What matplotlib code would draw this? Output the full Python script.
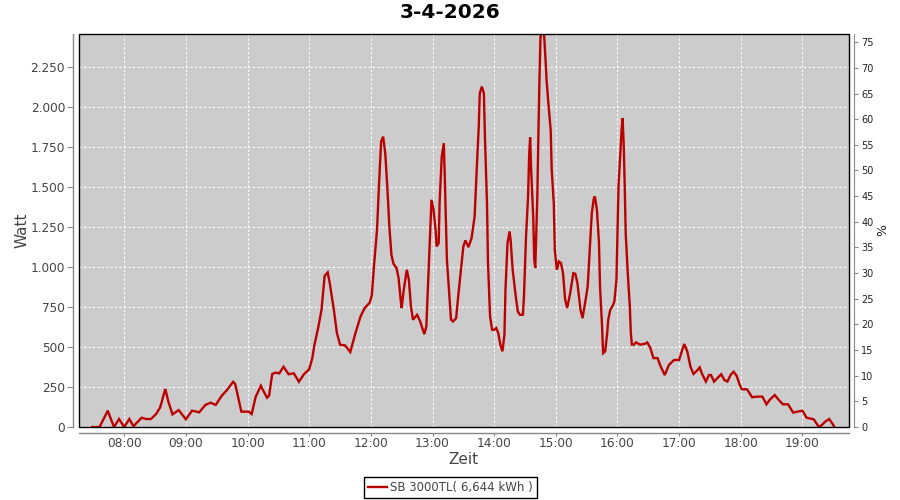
import matplotlib
matplotlib.use('Agg')
import matplotlib.pyplot as plt
from matplotlib.patches import Rectangle
from matplotlib.lines import Line2D

title = "3-4-2026"
series_label = "SB 3000TL( 6,644 kWh )"
x_label = "Zeit"
y_label = "Watt"
y2_label = "%"

times = [
    "07:29", "07:36", "07:44", "07:50", "07:55",
    "08:00", "08:05", "08:09", "08:17", "08:21", "08:26", "08:31", "08:35", "08:40", "08:43", "08:47", "08:53",
    "09:00", "09:06", "09:13", "09:19", "09:24", "09:29", "09:35", "09:40", "09:46", "09:48", "09:54",
    "10:01", "10:04", "10:08", "10:13", "10:15", "10:19", "10:21", "10:24", "10:27", "10:31", "10:35", "10:40",
    "10:45", "10:50", "10:55",
    "11:00", "11:03", "11:05", "11:09", "11:12", "11:14", "11:15", "11:18", "11:20", "11:24", "11:27", "11:30",
    "11:35", "11:40", "11:45", "11:50", "11:54", "11:59",
    "12:01", "12:03", "12:06", "12:08", "12:10", "12:12", "12:14", "12:16", "12:18", "12:20", "12:22", "12:25",
    "12:27", "12:29", "12:30", "12:32", "12:35", "12:37", "12:39", "12:41", "12:45", "12:48", "12:52", "12:54",
    "12:56", "12:58", "12:59",
    "13:01", "13:03", "13:04", "13:06", "13:07", "13:09", "13:11", "13:12", "13:14", "13:16", "13:18", "13:20",
    "13:23", "13:25", "13:28", "13:30", "13:32", "13:35", "13:38", "13:41", "13:43", "13:45", "13:46", "13:48",
    "13:50", "13:51", "13:53", "13:54", "13:56", "13:58",
    "14:00", "14:02", "14:04", "14:06", "14:08", "14:10", "14:11", "14:13", "14:15", "14:16", "14:18", "14:21",
    "14:23", "14:25", "14:28", "14:29", "14:31", "14:33", "14:34", "14:35", "14:36", "14:38", "14:39", "14:40",
    "14:42", "14:43", "14:44", "14:45", "14:46", "14:48", "14:50", "14:51", "14:53", "14:55", "14:56", "14:58",
    "14:59",
    "15:01", "15:03", "15:05", "15:07", "15:09", "15:11", "15:14", "15:17", "15:19", "15:21", "15:24", "15:26",
    "15:29", "15:31", "15:33", "15:35", "15:37", "15:38", "15:40", "15:42", "15:43", "15:45", "15:46", "15:48",
    "15:50", "15:51", "15:53", "15:55", "15:57", "15:59",
    "16:00", "16:01", "16:03", "16:04", "16:05", "16:06", "16:07", "16:08", "16:10", "16:12", "16:13", "16:14",
    "16:16", "16:18", "16:22", "16:27", "16:29", "16:32", "16:35", "16:39", "16:42", "16:46", "16:50", "16:55",
    "17:00", "17:03", "17:05", "17:08", "17:11", "17:14", "17:18", "17:20", "17:22", "17:26", "17:29", "17:31",
    "17:34", "17:38", "17:41", "17:44", "17:47", "17:50", "17:53", "17:56", "17:59",
    "18:01", "18:06", "18:11", "18:16", "18:21", "18:25", "18:28", "18:33", "18:37", "18:41", "18:46", "18:51",
    "18:55",
    "19:00", "19:04", "19:08", "19:11", "19:16", "19:19", "19:22", "19:26", "19:30", "19:31",
]

watts = [
    0, 0, 102, 0, 50,
    0, 50, 5, 58, 50, 50, 81, 123, 238, 158, 79, 106,
    48, 102, 92, 138, 152, 138, 196, 231, 283, 269, 96,
    96, 81, 190, 258, 231, 183, 196, 331, 340, 336, 377, 330,
    336, 283, 331,
    361, 430, 510, 629, 733, 878, 945, 967, 900, 733, 587, 515,
    510, 469, 587, 692, 744, 779,
    827, 1004, 1233, 1525, 1785, 1816, 1712, 1504, 1254, 1077, 1021, 994,
    931, 796, 744, 858, 983, 921, 754, 671, 702, 660, 581, 629,
    942, 1254, 1421,
    1358, 1233, 1129, 1150, 1421, 1692, 1775, 1550, 1046, 858, 671, 660,
    681, 817, 1004, 1129, 1167, 1125, 1181, 1317, 1608, 1879, 2087, 2129,
    2087, 1817, 1400, 1025, 692, 608,
    608, 619, 587, 515, 473, 577, 858, 1150, 1223, 1171, 983, 817,
    723, 702, 702, 817, 1192, 1442, 1692, 1812, 1608, 1317, 1046, 994,
    1442, 1817, 2150, 2421, 2520, 2520, 2296, 2171, 2004, 1858, 1608, 1400,
    1108,
    983, 1035, 1025, 962, 800, 744, 837, 962, 958, 900, 733, 681,
    796, 879, 1108, 1337, 1431, 1442, 1358, 1150, 879, 629, 462, 473,
    587, 671, 733, 754, 785, 921,
    1212, 1504, 1733, 1858, 1931, 1775, 1525, 1212, 962, 754, 587, 515,
    515, 529, 515, 521, 529, 494, 431, 431, 379, 325, 388, 419,
    419, 482, 519, 471, 377, 332, 357, 373, 336, 284, 325, 325,
    284, 311, 330, 294, 284, 325, 346, 319, 263,
    236, 236, 186, 190, 190, 142, 169, 200, 169, 142, 142, 90,
    96,
    102, 58, 52, 48, 0, 13, 33, 50, 13, 0,
]

x_tick_labels = ["08:00", "09:00", "10:00", "11:00", "12:00", "13:00",
                 "14:00", "15:00", "16:00", "17:00", "18:00", "19:00"]
watt_ticks = [0, 250, 500, 750, 1000, 1250, 1500, 1750, 2000, 2250]
watt_tick_labels = ["0", "250", "500", "750", "1.000", "1.250", "1.500", "1.750", "2.000", "2.250"]
pct_ticks = [0, 5, 10, 15, 20, 25, 30, 35, 40, 45, 50, 55, 60, 65, 70, 75]
watt_max = 2458
pct_max = 76.6
x_range = ["07:16", "19:45"]


def to_hours(s):
    h, m = s.split(":")
    return int(h) + int(m) / 60.0


xs = [to_hours(t) for t in times]

fig = plt.figure(figsize=(9, 5), dpi=100)
L, R, T, B = 79, 848.7, 34, 427
ax = fig.add_axes([L / 900, 1 - B / 500, (R - L) / 900, (B - T) / 500])
ax.set_facecolor('#cccccc')

line_color = '#bb0000'
ax.plot(xs, watts, color=line_color, linewidth=1.7, zorder=3, solid_joinstyle='miter')

ax.set_xlim(to_hours(x_range[0]), to_hours(x_range[1]))
ax.set_ylim(0, watt_max)

ax.set_xticks([to_hours(t) for t in x_tick_labels])
ax.set_xticklabels(x_tick_labels)
ax.set_yticks(watt_ticks)
ax.set_yticklabels(watt_tick_labels)

ax.set_axisbelow(True)
ax.grid(True, color='white', linestyle=(0, (2, 2)), linewidth=0.8)

axis_grey = '#888888'
text_grey = '#444444'
for s in ['top', 'right']:
    ax.spines[s].set_visible(False)
for s in ['left', 'bottom']:
    ax.spines[s].set_position(('outward', 4))
    ax.spines[s].set_color(axis_grey)
    ax.spines[s].set_linewidth(1.0)

ax.tick_params(axis='y', direction='out', length=4, width=0.8, color=axis_grey,
               labelsize=8.7, labelcolor=text_grey, pad=2)
ax.tick_params(axis='x', direction='out', length=2, width=0.8, color=axis_grey,
               labelsize=8.7, labelcolor=text_grey, pad=1)

ax.add_patch(Rectangle((0, 0), 1, 1, transform=ax.transAxes, fill=False,
                       edgecolor='black', linewidth=1.0, zorder=5, clip_on=False))

ax.set_xlabel(x_label, fontsize=11, color=text_grey, labelpad=2)
ax.set_ylabel(y_label, fontsize=11, color=text_grey, labelpad=1)

ax2 = ax.twinx()
ax2.set_ylim(0, pct_max)
ax2.set_yticks(pct_ticks)
ax2.set_yticklabels([str(v) for v in pct_ticks])
for s in ['top', 'left', 'bottom']:
    ax2.spines[s].set_visible(False)
ax2.spines['right'].set_position(('outward', 4))
ax2.spines['right'].set_color(axis_grey)
ax2.tick_params(axis='y', direction='out', length=3, width=0.8, color=axis_grey,
                labelsize=7, labelcolor='#222222', pad=2)
ax2.set_ylabel(y2_label, fontsize=9, color='#222222', labelpad=2)

fig.text(0.5, 1 - 13 / 500, title, ha='center', va='center',
         fontsize=14.5, fontweight='bold', color='black')

handle = Line2D([], [], color=line_color, linewidth=1.7)
leg = fig.legend([handle], [series_label], loc='center',
                 bbox_to_anchor=(450.5 / 900, 1 - 487.5 / 500),
                 fontsize=8.5, frameon=True, fancybox=False, edgecolor='black',
                 framealpha=1, handlelength=1.6, handletextpad=0.3,
                 borderpad=0.3, borderaxespad=0)
leg.get_frame().set_linewidth(1.0)
for t in leg.get_texts():
    t.set_color(text_grey)

fig.savefig('out.png', dpi=100)
